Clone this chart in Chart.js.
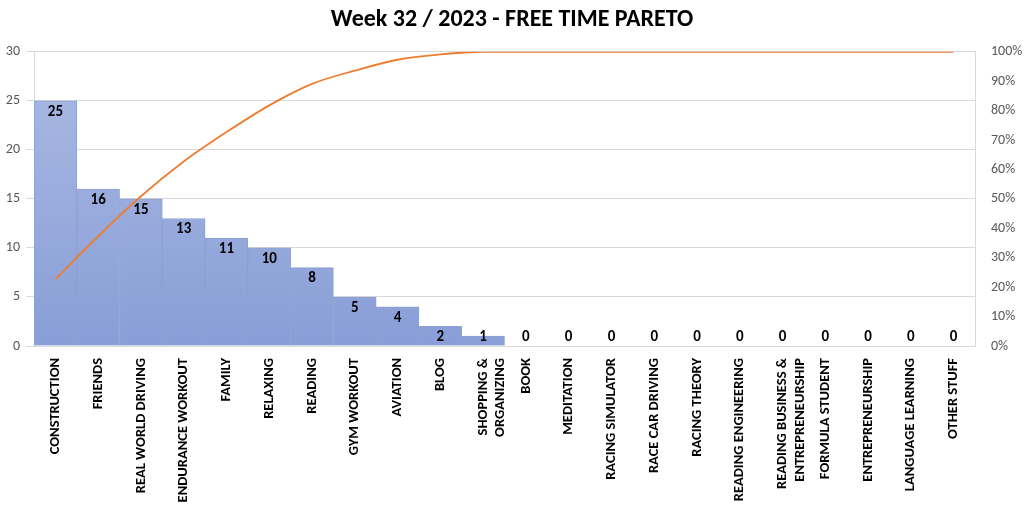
<!DOCTYPE html>
<html>
<head>
<meta charset="utf-8">
<script src="https://cdn.jsdelivr.net/npm/chart.js@4"></script>
<style>
  html, body { margin: 0; padding: 0; background: #fff; }
  #wrap { width: 1024px; height: 510px; }
</style>
</head>
<body>
<div id="wrap"><canvas id="pareto"></canvas></div>
<script>
const categories = [
  'CONSTRUCTION', 'FRIENDS', 'REAL WORLD DRIVING', 'ENDURANCE WORKOUT', 'FAMILY',
  'RELAXING', 'READING', 'GYM WORKOUT', 'AVIATION', 'BLOG',
  ['SHOPPING &', 'ORGANIZING'], 'BOOK', 'MEDITATION', 'RACING SIMULATOR', 'RACE CAR DRIVING',
  'RACING THEORY', 'READING ENGINEERING', ['READING BUSINESS &', 'ENTREPRENEURSHIP'],
  'FORMULA STUDENT', 'ENTREPRENEURSHIP', 'LANGUAGE LEARNING', 'OTHER STUFF'
];
const hours = [25, 16, 15, 13, 11, 10, 8, 5, 4, 2, 1, 0, 0, 0, 0, 0, 0, 0, 0, 0, 0, 0];
// cumulative share
const cumulative = [0.227, 0.373, 0.509, 0.627, 0.727, 0.818, 0.891, 0.936, 0.973, 0.991, 1, 1, 1, 1, 1, 1, 1, 1, 1, 1, 1, 1];
const leftTicks = [0, 5, 10, 15, 20, 25, 30];
const rightTicks = [0, 0.1, 0.2, 0.3, 0.4, 0.5, 0.6, 0.7, 0.8, 0.9, 1];

const FONT = 'Calibri, Carlito, Lato, "Open Sans", sans-serif';

// bar values in bold, just under the top of each bar
const barLabels = {
  id: 'barLabels',
  afterDatasetsDraw(chart) {
    const ctx = chart.ctx;
    const meta = chart.getDatasetMeta(1);
    const base = chart.scales.y.getPixelForValue(0);
    ctx.save();
    ctx.font = 'bold 15px ' + FONT;
    ctx.fillStyle = '#000';
    ctx.textAlign = 'center';
    ctx.textBaseline = 'middle';
    meta.data.forEach((bar, i) => {
      const y = Math.min(bar.y + 11, base - 9);
      ctx.fillText(String(hours[i]), bar.x, y);
    });
    ctx.restore();
  }
};

new Chart(document.getElementById('pareto'), {
  data: {
    labels: categories,
    datasets: [
      {
        type: 'line',
        data: cumulative,
        yAxisID: 'y1',
        borderColor: '#ed7d31',
        borderWidth: 1.8,
        pointRadius: 0,
        cubicInterpolationMode: 'monotone',
        order: 0
      },
      {
        type: 'bar',
        data: hours,
        yAxisID: 'y',
        backgroundColor(c) {
          const area = c.chart.chartArea;
          if (!area) return '#99aadb';
          const g = c.chart.ctx.createLinearGradient(0, area.top, 0, area.bottom);
          g.addColorStop(0, '#abbae3');
          g.addColorStop(1, '#899ed7');
          return g;
        },
        borderColor: '#8da0d3',
        borderWidth: 1,
        barPercentage: 1,
        categoryPercentage: 1,
        order: 1
      }
    ]
  },
  options: {
    responsive: true,
    maintainAspectRatio: false,
    animation: false,
    layout: { padding: { top: 0, right: 0, bottom: 0, left: 0 } },
    plugins: {
      legend: { display: false },
      tooltip: { enabled: false },
      title: {
        display: true,
        text: 'Week 32 / 2023 - FREE TIME PARETO',
        color: '#000',
        font: { family: FONT, size: 24, weight: 'bold' },
        padding: { top: 6, bottom: 17 }
      }
    },
    scales: {
      x: {
        grid: { display: false },
        border: { color: '#d9d9d9' },
        ticks: {
          color: '#000',
          font: { family: FONT, size: 14.5, weight: 'bold' },
          maxRotation: 90,
          minRotation: 90,
          autoSkip: false,
          padding: 4
        },
        afterFit(s) { s.height = 164; }
      },
      y: {
        position: 'left',
        min: 0,
        max: 30,
        afterBuildTicks(s) { s.ticks = leftTicks.map(v => ({ value: v })); },
        grid: { color: '#d9d9d9' },
        border: { color: '#d9d9d9' },
        ticks: { color: '#595959', font: { family: FONT, size: 14 }, padding: 6 },
        afterFit(s) { s.width = 34; }
      },
      y1: {
        position: 'right',
        min: 0,
        max: 1,
        afterBuildTicks(s) { s.ticks = rightTicks.map(v => ({ value: v })); },
        grid: { display: false },
        border: { color: '#d9d9d9' },
        ticks: {
          color: '#595959',
          font: { family: FONT, size: 14 },
          padding: 8,
          callback: v => Math.round(v * 100) + '%'
        },
        afterFit(s) { s.width = 49; }
      }
    }
  },
  plugins: [barLabels]
});
</script>
</body>
</html>
